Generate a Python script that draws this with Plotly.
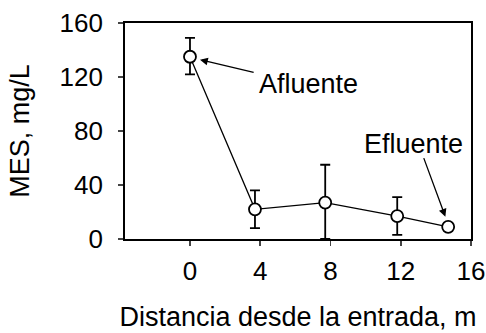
import plotly.graph_objects as go

# Data
distancia = [0, 3.7, 7.7, 11.8, 14.7]
mes = [135, 22, 27, 17, 9]
err_up = [14, 14, 28, 14, 0]
err_down = [13, 14, 27, 14, 0]
x_ticks = [0, 4, 8, 12, 16]
y_ticks = [0, 40, 80, 120, 160]

FONT = "Liberation Sans, Arial, sans-serif"
FS_TICK = 26
FS_TEXT = 27

fig = go.Figure()
fig.add_trace(go.Scatter(
    x=distancia, y=mes, mode="lines+markers",
    line=dict(color="black", width=1.3),
    marker=dict(symbol="circle", size=12, color="white",
                line=dict(color="black", width=1.8)),
    error_y=dict(type="data", array=err_up, arrayminus=err_down,
                 color="black", thickness=1.8, width=5),
    showlegend=False, cliponaxis=False,
))

fig.update_layout(
    width=486, height=333,
    margin=dict(l=125, r=15, t=23, b=94),
    paper_bgcolor="white", plot_bgcolor="white",
    font=dict(family=FONT, size=FS_TICK, color="black"),
    xaxis=dict(range=[-3.7, 16], tickvals=x_ticks, ticks="outside", ticklen=5,
               tickwidth=1.5, showline=True, linecolor="black", linewidth=1.8,
               mirror=True, showgrid=False, zeroline=False, automargin=False,
               ticklabelstandoff=3,
               title=dict(text="Distancia desde la entrada, m", standoff=22,
                          font=dict(size=FS_TEXT))),
    yaxis=dict(range=[0, 160], tickvals=y_ticks, ticks="outside", ticklen=5,
               tickwidth=1.5, showline=True, linecolor="black", linewidth=1.8,
               mirror=True, showgrid=False, zeroline=False, automargin=False,
               ticklabelstandoff=10,
               title=dict(text="MES, mg/L", standoff=22, font=dict(size=FS_TEXT))),
)

# Arrows (no text)
fig.add_annotation(x=0.57, y=132.8, ax=3.71, ay=123.2, xref="x", yref="y",
                   axref="x", ayref="y", text="", showarrow=True,
                   arrowhead=2, arrowsize=1.2, arrowwidth=1.3, arrowcolor="black")
fig.add_annotation(x=14.54, y=16.5, ax=13.28, ay=61, xref="x", yref="y",
                   axref="x", ayref="y", text="", showarrow=True,
                   arrowhead=2, arrowsize=1.2, arrowwidth=1.3, arrowcolor="black")
# Labels
fig.add_annotation(x=3.8, y=115, xref="x", yref="y", text="Afluente",
                   showarrow=False, xanchor="left", yanchor="middle",
                   font=dict(size=FS_TEXT))
fig.add_annotation(x=9.8, y=70.6, xref="x", yref="y", text="Efluente",
                   showarrow=False, xanchor="left", yanchor="middle",
                   font=dict(size=FS_TEXT))

fig.write_html(
    "out.html",
    config={"displayModeBar": False, "staticPlot": True},
    post_script="document.body.style.margin='0';document.body.style.overflow='hidden';",
)
